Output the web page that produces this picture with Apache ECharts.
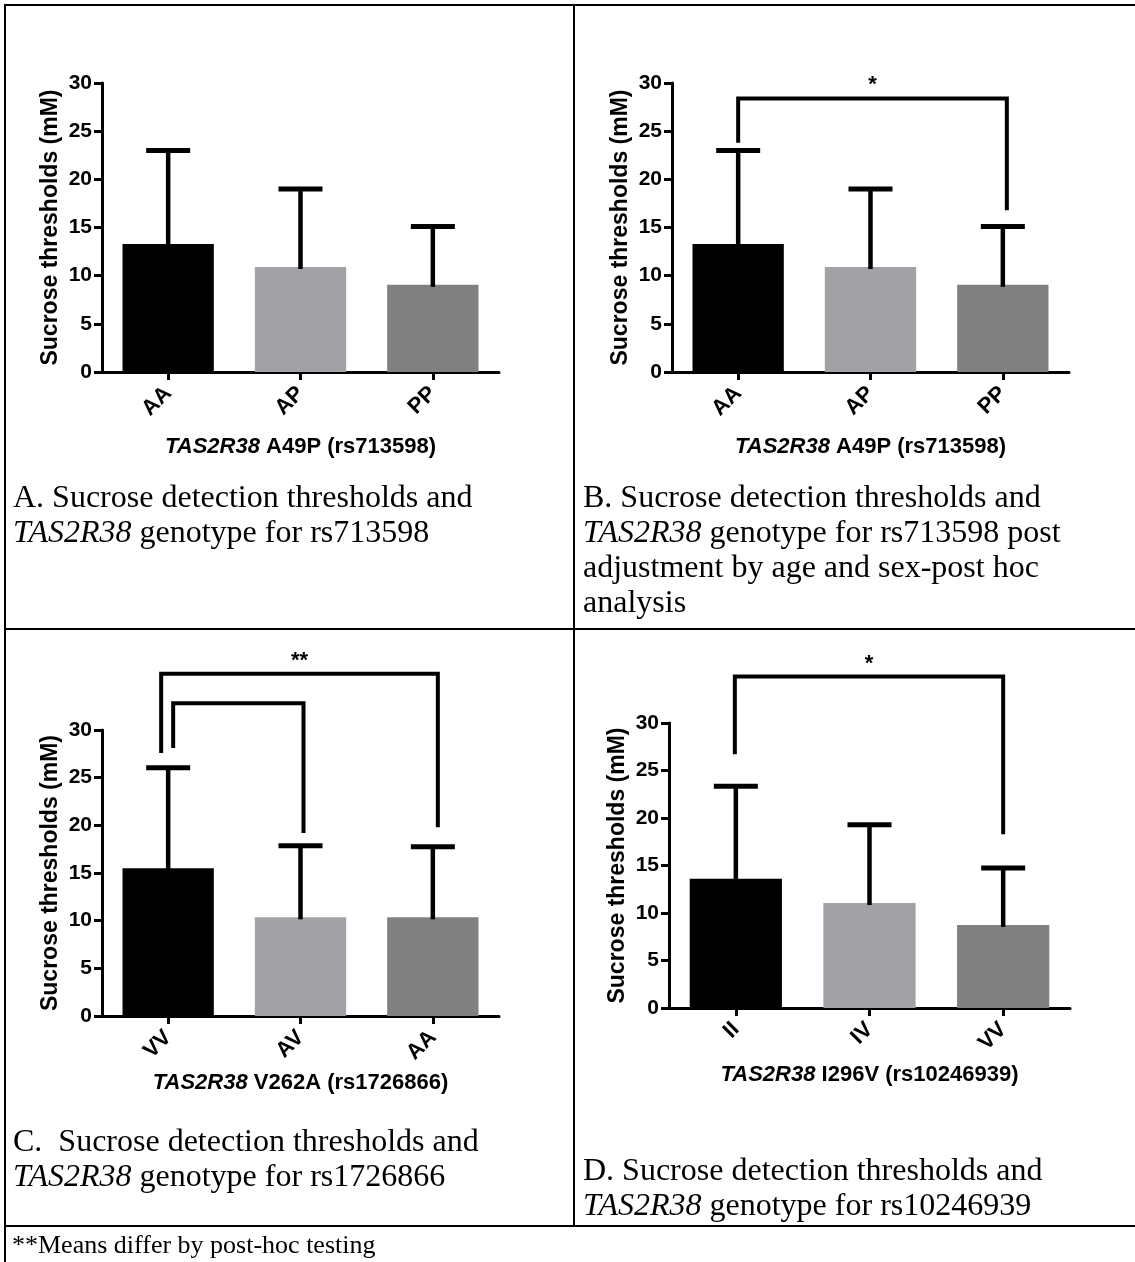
<!DOCTYPE html>
<html><head><meta charset="utf-8">
<script src="https://cdn.jsdelivr.net/npm/echarts@6/dist/echarts.min.js"></script>
<style>html,body{margin:0;padding:0;background:#fff}#c{width:1135px;height:1262px}</style>
</head><body><div id="c"></div>
<script>
// ---- data ----
const catsAB = ['AA', 'AP', 'PP'];
const catsC = ['VV', 'AV', 'AA'];
const catsD = ['II', 'IV', 'VV'];
const meanA = [13.3, 10.9, 9.05];
const upperA = [23.0, 19.0, 15.1];
const meanB = [13.3, 10.9, 9.05];
const upperB = [23.0, 19.0, 15.1];
const meanC = [15.5, 10.35, 10.35];
const upperC = [26.05, 17.85, 17.75];
const meanD = [13.6, 11.05, 8.75];
const upperD = [23.35, 19.3, 14.75];
const yMin = 0, yMax = 30, yStep = 5;
// brackets: [fromIndex, toIndex, topValue, fromEndValue, toEndValue]
const bracketsA = [];
const bracketsB = [[0, 2, 28.4, 23.8, 16.8]];
const bracketsC = [[0, 2, 35.9, 27.6, 19.8], [0, 1, 32.8, 28.1, 19.2]];
const bracketsD = [[0, 2, 34.9, 26.7, 18.3]];
const starsA = [];
const starsB = ['*'];
const starsC = ['**', ''];
const starsD = ['*'];
const xTitleA = ['TAS2R38', ' A49P (rs713598)'];
const xTitleB = ['TAS2R38', ' A49P (rs713598)'];
const xTitleC = ['TAS2R38', ' V262A (rs1726866)'];
const xTitleD = ['TAS2R38', ' I296V (rs10246939)'];
const yTitle = 'Sucrose thresholds (mM)';
const captionA = ['A. Sucrose detection thresholds and', ['TAS2R38', ' genotype for rs713598']];
const captionB = ['B. Sucrose detection thresholds and', ['TAS2R38', ' genotype for rs713598 post'], 'adjustment by age and sex-post hoc', 'analysis'];
const captionC = ['C.  Sucrose detection thresholds and', ['TAS2R38', ' genotype for rs1726866']];
const captionD = ['D. Sucrose detection thresholds and', ['TAS2R38', ' genotype for rs10246939']];
const footnote = '**Means differ by post-hoc testing';

// ---- styles ----
const FF = '"Liberation Sans", Arial, sans-serif';
const SERIF = '"Liberation Serif", "Times New Roman", serif';
const barColors = ['#000000', '#a2a1a6', '#808080'];

const panels = [
  {cats: catsAB, mean: meanA, upper: upperA, br: bracketsA, st: starsA, xt: xTitleA, xGap: 64, grid: {left: 102, top: 83, width: 397, height: 289}, off: []},
  {cats: catsAB, mean: meanB, upper: upperB, br: bracketsB, st: starsB, xt: xTitleB, xGap: 64, grid: {left: 672, top: 83, width: 397, height: 289}, off: [[0, 4]]},
  {cats: catsC, mean: meanC, upper: upperC, br: bracketsC, st: starsC, xt: xTitleC, xGap: 56, grid: {left: 102, top: 730, width: 397, height: 286}, off: [[-7, 5], [5, 3]]},
  {cats: catsD, mean: meanD, upper: upperD, br: bracketsD, st: starsD, xt: xTitleD, xGap: 56, grid: {left: 669, top: 723, width: 401, height: 285}, off: [[-1, 0]]}
];

function errRender(params, api) {
  const x = api.value(0), m = api.value(1), u = api.value(2);
  const p0 = api.coord([x, m]);
  const p1 = api.coord([x, u]);
  const half = 22;
  return {type: 'group', children: [
    {type: 'line', shape: {x1: p0[0], y1: p0[1] + 2, x2: p1[0], y2: p1[1]}, style: {stroke: '#000', lineWidth: 4.5}},
    {type: 'line', shape: {x1: p1[0] - half, y1: p1[1], x2: p1[0] + half, y2: p1[1]}, style: {stroke: '#000', lineWidth: 5}}
  ]};
}

function bracketRender(offs, stars) {
  return function (params, api) {
    const i = params.dataIndex;
    const a = api.value(0), b = api.value(1), top = api.value(2), ea = api.value(3), eb = api.value(4);
    const pa = api.coord([a, ea]);
    const pb = api.coord([b, eb]);
    const pt = api.coord([a, top]);
    const o = offs[i] || [0, 0];
    const xa = pa[0] + o[0], xb = pb[0] + o[1], yt = pt[1];
    const ch = [{type: 'polyline', shape: {points: [[xa, pa[1]], [xa, yt], [xb, yt], [xb, pb[1]]]},
      style: {stroke: '#000', lineWidth: 4, fill: null, lineJoin: 'miter'}}];
    if (stars[i]) {
      ch.push({type: 'text', x: (xa + xb) / 2, y: yt - 13,
        style: {text: stars[i], fill: '#000', fontSize: 22, fontWeight: 'bold', fontFamily: FF, align: 'center', verticalAlign: 'middle'}});
    }
    return {type: 'group', children: ch};
  };
}

const grids = [], xAxes = [], yAxes = [], series = [];
panels.forEach((p, gi) => {
  grids.push(Object.assign({outerBoundsMode: 'none', containLabel: false}, p.grid));
  xAxes.push({
    type: 'category', gridIndex: gi, data: p.cats, boundaryGap: true,
    axisLine: {show: true, lineStyle: {color: '#000', width: 3}},
    axisTick: {show: true, alignWithLabel: true, length: 8, lineStyle: {color: '#000', width: 3}},
    axisLabel: {rotate: 45, margin: 18, color: '#000', fontSize: 22, fontWeight: 'bold', fontFamily: FF},
    splitLine: {show: false},
    name: '{i|' + p.xt[0] + '}' + p.xt[1], nameLocation: 'middle', nameGap: p.xGap,
    nameTextStyle: {color: '#000', fontSize: 22, fontWeight: 'bold', fontFamily: FF,
      rich: {i: {fontStyle: 'italic', fontWeight: 'bold', fontSize: 22, fontFamily: FF, color: '#000'}}}
  });
  yAxes.push({
    type: 'value', gridIndex: gi, min: yMin, max: yMax, interval: yStep,
    axisLine: {show: true, lineStyle: {color: '#000', width: 3}},
    axisTick: {show: true, length: 8, lineStyle: {color: '#000', width: 3}},
    axisLabel: {margin: 10, color: '#000', fontSize: 21, fontWeight: 'bold', fontFamily: FF},
    splitLine: {show: false},
    name: yTitle, nameLocation: 'middle', nameGap: 40,
    nameTextStyle: {color: '#000', fontSize: 23, fontWeight: 'bold', fontFamily: FF}
  });
  series.push({
    type: 'bar', xAxisIndex: gi, yAxisIndex: gi, barWidth: '69%', silent: true,
    data: p.mean.map((v, i) => ({value: v, itemStyle: {color: barColors[i]}})),
    animation: false
  });
  series.push({
    type: 'custom', xAxisIndex: gi, yAxisIndex: gi, renderItem: errRender, clip: false, z: 5,
    encode: {x: 0, y: [1, 2]},
    data: p.mean.map((v, i) => [i, v, p.upper[i]]), animation: false, silent: true
  });
  if (p.br.length) {
    series.push({
      type: 'custom', xAxisIndex: gi, yAxisIndex: gi, renderItem: bracketRender(p.off, p.st), clip: false, z: 6,
      encode: {x: [0, 1], y: [2, 3, 4]},
      data: p.br, animation: false, silent: true
    });
  }
});

function captionText(lines) {
  return lines.map(l => Array.isArray(l) ? '{i|' + l[0] + '}{n|' + l[1] + '}' : '{n|' + l + '}').join('\n');
}
const CAP = 32, CAPLH = 35;
const capRich = {
  n: {fontSize: CAP, fontFamily: SERIF, lineHeight: CAPLH, fill: '#000', color: '#000'},
  i: {fontSize: CAP, fontFamily: SERIF, fontStyle: 'italic', lineHeight: CAPLH, fill: '#000', color: '#000'}
};
function cap(x, y, lines) {
  return {type: 'text', x: x, y: y, silent: true,
    style: {text: captionText(lines), rich: capRich, fontSize: CAP, fontFamily: SERIF, lineHeight: CAPLH, fill: '#000', align: 'left', verticalAlign: 'top'}};
}
const L = (x1, y1, x2, y2) => ({type: 'line', silent: true, shape: {x1, y1, x2, y2}, style: {stroke: '#000', lineWidth: 2}});

const graphic = [
  L(5, 5, 1135, 5),
  L(5, 4, 5, 1262),
  L(574, 4, 574, 1227),
  L(5, 629, 1135, 629),
  L(5, 1226, 1135, 1226),
  cap(13, 481, captionA),
  cap(583, 481, captionB),
  cap(13, 1125, captionC),
  cap(583, 1154, captionD),
  {type: 'text', x: 12, y: 1231, silent: true,
    style: {text: footnote, fontSize: 26, fontFamily: SERIF, fill: '#000', align: 'left', verticalAlign: 'top', lineHeight: 30}}
];

const chart = echarts.init(document.getElementById('c'), null, {renderer: 'canvas'});
chart.setOption({
  animation: false, backgroundColor: '#fff',
  grid: grids, xAxis: xAxes, yAxis: yAxes, series: series, graphic: graphic
});
</script></body></html>
